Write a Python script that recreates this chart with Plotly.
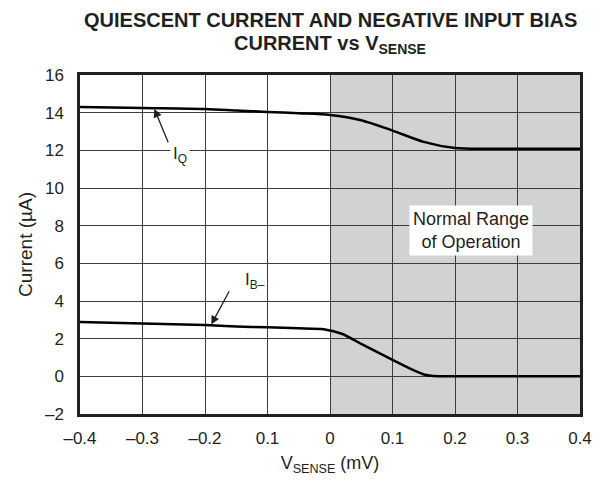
import plotly.graph_objects as go

# Data
v_sense = [-0.4, -0.3, -0.2, -0.15, -0.1, -0.05, 0.0, 0.05, 0.1, 0.15, 0.2, 0.25, 0.3, 0.4]
i_q =     [14.3, 14.25, 14.2, 14.12, 14.04, 13.97, 13.88, 13.6, 13.05, 12.45, 12.12, 12.08, 12.08, 12.08]

v_sense_b = [-0.4, -0.3, -0.2, -0.15, -0.1, -0.05, -0.01, 0.02, 0.05, 0.1, 0.13, 0.15, 0.165, 0.2, 0.3, 0.4]
i_b =       [2.88, 2.8, 2.72, 2.65, 2.6, 2.55, 2.5, 2.25, 1.72, 0.87, 0.38, 0.1, 0.02, 0.0, 0.0, 0.0]

x_ticks = [-0.4, -0.3, -0.2, -0.1, 0.0, 0.1, 0.2, 0.3, 0.4]
x_tick_labels = ["–0.4", "–0.3", "–0.2", "0.1", "0", "0.1", "0.2", "0.3", "0.4"]
y_ticks = [-2, 0, 2, 4, 6, 8, 10, 12, 14, 16]
y_tick_labels = ["–2", "0", "2", "4", "6", "8", "10", "12", "14", "16"]

FONT = "Arial, Liberation Sans, sans-serif"
TXT = "#231f20"

fig = go.Figure()
fig.add_trace(go.Scatter(x=v_sense, y=i_q, mode="lines", line=dict(color="black", width=2.5, shape="spline", smoothing=0.8), showlegend=False))
fig.add_trace(go.Scatter(x=v_sense_b, y=i_b, mode="lines", line=dict(color="black", width=2.5, shape="spline", smoothing=0.6), showlegend=False))

fig.add_shape(type="rect", x0=0, x1=0.4, y0=-2, y1=16, xref="x", yref="y",
              fillcolor="#d1d2d4", line=dict(width=0), layer="below")

# Title as two one-line annotations
fig.add_annotation(x=0.50, y=1.163, xref="paper", yref="paper", xanchor="center", yanchor="middle",
                   text="<b>QUIESCENT CURRENT AND NEGATIVE INPUT BIAS</b>", borderpad=0,
                   showarrow=False, font=dict(family=FONT, size=20, color=TXT))
fig.add_annotation(x=0.50, y=1.09, xref="paper", yref="paper", xanchor="center", yanchor="middle",
                   text="<b>CURRENT vs V<sub>SENSE</sub></b>", borderpad=0,
                   showarrow=False, font=dict(family=FONT, size=20, color=TXT))

# Labels
fig.add_annotation(x=-0.24, y=11.75, text="I<sub>Q</sub>", showarrow=False, bgcolor="white",
                   font=dict(family=FONT, size=17, color=TXT), borderpad=2)
fig.add_annotation(x=-0.12, y=5.05, text="I<sub>B–</sub>", showarrow=False,
                   font=dict(family=FONT, size=17, color=TXT))
# Arrows
fig.add_annotation(x=-0.281, y=14.2, ax=-0.258, ay=12.35, xref="x", yref="y", axref="x", ayref="y",
                   text="", showarrow=True, arrowhead=2, arrowsize=1.3, arrowwidth=1.3, arrowcolor=TXT)
fig.add_annotation(x=-0.19, y=2.75, ax=-0.16, ay=4.6, xref="x", yref="y", axref="x", ayref="y",
                   text="", showarrow=True, arrowhead=2, arrowsize=1.3, arrowwidth=1.3, arrowcolor=TXT)

fig.add_annotation(x=0.226, y=7.75, text="Normal Range<br>of Operation", showarrow=False,
                   bgcolor="white", font=dict(family=FONT, size=18, color=TXT), borderpad=3)

# page body has an 8px margin, so the figure is sized to fit the 604x483 window
fig.update_layout(
    width=596, height=475,
    margin=dict(l=72, r=19, t=67, b=63),
    paper_bgcolor="white", plot_bgcolor="white",
    font=dict(family=FONT, size=17, color=TXT),
    showlegend=False,
)
fig.update_xaxes(range=[-0.4, 0.4], tickvals=x_ticks, ticktext=x_tick_labels,
                 showgrid=True, gridcolor="#3c3c3c", gridwidth=1, zeroline=False,
                 showline=True, linecolor="#231f20", linewidth=2.5, mirror=True,
                 ticks="", ticklabelstandoff=7,
                 title=dict(text="V<sub>SENSE</sub> (mV)", font=dict(family=FONT, size=18, color=TXT), standoff=10))
fig.update_yaxes(range=[-2, 16], tickvals=y_ticks, ticktext=y_tick_labels,
                 showgrid=True, gridcolor="#3c3c3c", gridwidth=1, zeroline=False,
                 showline=True, linecolor="#231f20", linewidth=2.5, mirror=True,
                 ticks="", ticklabelstandoff=10,
                 title=dict(text="Current (µA)", font=dict(family=FONT, size=19, color=TXT), standoff=8))

fig.write_html("out.html")
